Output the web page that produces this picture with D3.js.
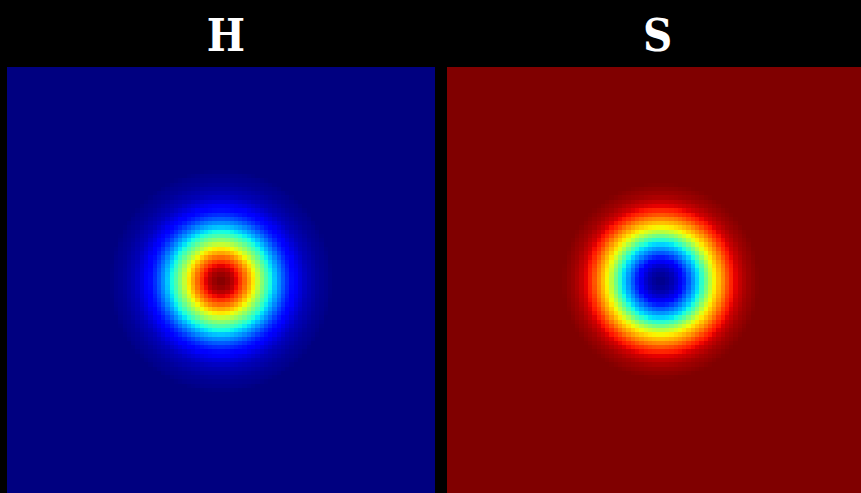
<!DOCTYPE html>
<html>
<head>
<meta charset="utf-8">
<script src="https://cdn.jsdelivr.net/npm/d3@7"></script>
<style>
  body { margin: 0; background: #000; }
  #chart { width: 861px; height: 493px; overflow: hidden; }
  .title { font-family: "DejaVu Serif Condensed", "DejaVu Serif", serif; font-stretch: condensed; font-weight: bold; fill: #fff; }
</style>
</head>
<body>
<div id="chart"></div>
<script>
// panel titles
var titles = ["H", "S"];

// field value vs distance from centre (in grid cells)
var hProfile = [1.00, 0.99, 0.97, 0.94, 0.89, 0.83, 0.77, 0.70, 0.63, 0.55,
                0.48, 0.41, 0.35, 0.29, 0.24, 0.19, 0.15, 0.12, 0.09, 0.07,
                0.05, 0.04, 0.03, 0.02, 0.015, 0.01, 0.0];
var sProfile = [0.01, 0.015, 0.03, 0.05, 0.08, 0.12, 0.18, 0.24, 0.30, 0.36,
                0.44, 0.53, 0.615, 0.68, 0.735, 0.79, 0.85, 0.89, 0.93, 0.95,
                0.97, 0.98, 0.99, 1.0];
var profiles = [hProfile, sProfile];

var gridSize = 100;

var width = 861, height = 493;
var svg = d3.select("#chart")
  .append("svg")
  .attr("width", width)
  .attr("height", height);

svg.append("rect")
  .attr("width", width)
  .attr("height", height)
  .attr("fill", "#000");

// matplotlib "jet"
var red = d3.scaleLinear().domain([0, 0.35, 0.66, 0.89, 1]).range([0, 0, 1, 1, 0.5]).clamp(true);
var green = d3.scaleLinear().domain([0, 0.125, 0.375, 0.64, 0.91, 1]).range([0, 0, 1, 1, 0, 0]).clamp(true);
var blue = d3.scaleLinear().domain([0, 0.11, 0.34, 0.65, 1]).range([0.5, 1, 1, 0, 0]).clamp(true);
function jet(v) {
  return d3.rgb(red(v) * 255, green(v) * 255, blue(v) * 255).toString();
}

var panelSize = 428;
var panelLeft = [7, 446.7];
var panelTop = 67;
var titleX = [226, 657.5];

var cells = [];
d3.range(gridSize).forEach(function(j) {
  d3.range(gridSize).forEach(function(i) {
    cells.push({i: i, j: j});
  });
});

titles.forEach(function(t, k) {
  var xScale = d3.scaleBand()
    .domain(d3.range(gridSize))
    .range([panelLeft[k], panelLeft[k] + panelSize]);
  var yScale = d3.scaleBand()
    .domain(d3.range(gridSize))
    .range([panelTop, panelTop + panelSize]);
  // radius (cells) -> value
  var radial = d3.scaleLinear()
    .domain(d3.range(profiles[k].length))
    .range(profiles[k])
    .clamp(true);
  var c = (gridSize - 1) / 2;

  var g = svg.append("g").attr("shape-rendering", "crispEdges");
  g.selectAll("rect")
    .data(cells)
    .enter()
    .append("rect")
      .attr("x", function(d) { return xScale(d.i); })
      .attr("y", function(d) { return yScale(d.j); })
      .attr("width", xScale.bandwidth())
      .attr("height", yScale.bandwidth())
      .attr("fill", function(d) { return jet(radial(Math.hypot(d.i - c, d.j - c))); });

  svg.append("text")
    .attr("class", "title")
    .attr("x", titleX[k])
    .attr("y", 51)
    .attr("text-anchor", "middle")
    .attr("font-size", 45)
    .text(t);
});
</script>
</body>
</html>
